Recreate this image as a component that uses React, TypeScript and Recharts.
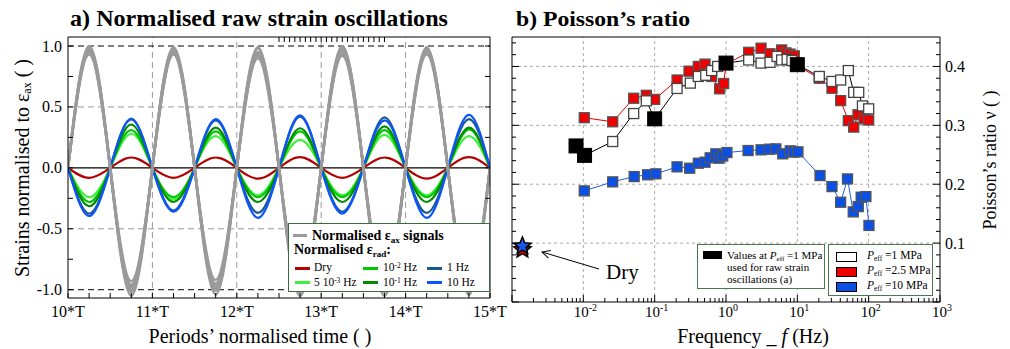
import React from 'react';
import { LineChart, Line, XAxis, YAxis, ReferenceLine, ScatterChart, Scatter } from 'recharts';

const SERIF = '"Liberation Serif", "Times New Roman", Times, serif';
const TXT = { fontFamily: SERIF };

// ---------------- Panel a) : raw strain oscillations ----------------
// samples at every quarter period (zero crossings and extrema)
const PERIOD_SAMPLES = [10, 10.25, 10.5, 10.75, 11, 11.25, 11.5, 11.75, 12, 12.25, 12.5, 12.75, 13, 13.25, 13.5, 13.75, 14, 14.25, 14.5, 14.75, 15];
const PERIOD_TICKS = [10, 10.25, 10.5, 10.75, 11, 11.25, 11.5, 11.75, 12, 12.25, 12.5, 12.75, 13, 13.25, 13.5, 13.75, 14, 14.25, 14.5, 14.75, 15];
const PERIOD_LABELS = ['10*T', '11*T', '12*T', '13*T', '14*T', '15*T'];
const PERIOD_GRID = [11, 12, 13, 14];
const STRAIN_TICKS = [-1, -0.75, -0.5, -0.25, 0, 0.25, 0.5, 0.75, 1];
const STRAIN_LABELS = ['-1.0', '-0.5', '0.0', '0.5', '1.0'];
const STRAIN_GRID_DARK = [-1, 1];
const STRAIN_GRID_LIGHT = [-0.5, 0.5];

// axial strain signals (one per test), extrema of each half period
const AX_1 = [1.0, -1.05, 0.99, -1.04, 0.99, -1.05, 1.0, -1.05, 0.99, -1.04];
const AX_2 = [0.99, -1.02, 0.98, -1.01, 0.98, -1.02, 0.99, -1.02, 0.98, -1.02];
const AX_3 = [0.97, -0.98, 0.97, -0.97, 0.95, -0.98, 0.97, -0.98, 0.97, -0.98];
const AX_4 = [0.95, -0.96, 0.94, -0.95, 0.92, -0.96, 0.94, -0.95, 0.95, -0.96];
const AX_5 = [0.93, -0.93, 0.93, -0.92, 0.9, -0.94, 0.92, -0.93, 0.93, -0.94];
const AX_6 = [0.96, -1.0, 0.95, -0.99, 0.94, -1.0, 0.96, -1.0, 0.96, -0.99];

// radial strain signals
const RAD_DRY = [-0.082, 0.085, -0.082, 0.085, -0.088, 0.088, -0.082, 0.085, -0.088, 0.088];
const RAD_5E3 = [-0.24, 0.28, -0.26, 0.26, -0.225, 0.23, -0.225, 0.27, -0.225, 0.26];
const RAD_1E2 = [-0.28, 0.31, -0.24, 0.3, -0.24, 0.3, -0.24, 0.31, -0.24, 0.315];
const RAD_1E1 = [-0.315, 0.356, -0.28, 0.33, -0.28, 0.325, -0.28, 0.34, -0.28, 0.33];
const RAD_1 = [-0.375, 0.405, -0.35, 0.39, -0.37, 0.42, -0.36, 0.415, -0.37, 0.4];
const RAD_10 = [-0.395, 0.397, -0.36, 0.4, -0.41, 0.43, -0.375, 0.39, -0.41, 0.435];

const AX_SERIES = [AX_1, AX_2, AX_3, AX_4, AX_5, AX_6];
const RAD_SERIES = [RAD_DRY, RAD_5E3, RAD_1E2, RAD_1E1, RAD_1, RAD_10];
const RAD_COLORS = ['#b30000', '#3cf03c', '#00c800', '#008a00', '#1c5a8c', '#0a55ff'];
const AX_COLOR = '#9a9a9a';

const strainRows = PERIOD_SAMPLES.map((t, i) => {
  const row: Record<string, number> = { t };
  const pick = (peaks: number[]) => (i % 2 === 1 ? peaks[(i - 1) / 2] : 0);
  AX_SERIES.forEach((s, k) => (row['ax' + k] = pick(s)));
  RAD_SERIES.forEach((s, k) => (row['rad' + k] = pick(s)));
  return row;
});

// ---------------- Panel b) : Poisson's ratio ----------------
const FREQ_DECADES = [0.001, 0.01, 0.1, 1, 10, 100];
const FREQ_MULTS = [1, 2, 3, 4, 5, 6, 7, 8, 9];
const FREQ_LABELS = ['-2', '-1', '0', '1', '2', '3'];
const FREQ_GRID = [0.01, 0.1, 1, 10, 100];
const NU_TICKS = [0, 0.02, 0.04, 0.06, 0.08, 0.1, 0.12, 0.14, 0.16, 0.18, 0.2, 0.22, 0.24, 0.26, 0.28, 0.3, 0.32, 0.34, 0.36, 0.38, 0.4, 0.42, 0.44];
const NU_LABELS = ['0.1', '0.2', '0.3', '0.4'];
const NU_GRID = [0.1, 0.2, 0.3, 0.4];

const P25_F = [0.0103, 0.0258, 0.0508, 0.0764, 0.1, 0.206, 0.303, 0.409, 0.508, 0.629, 0.815, 0.927, 1.0, 2.08, 3.1, 4.14, 6.03, 6.93, 7.9, 9.07, 10, 20.3, 30.6, 40.5, 51.9, 61.7, 70.9, 87, 100];
const P25_V = [0.313, 0.306, 0.346, 0.351, 0.344, 0.377, 0.392, 0.4, 0.404, 0.383, 0.362, 0.371, 0.404, 0.424, 0.431, 0.4215, 0.428, 0.423, 0.421, 0.418, 0.401, 0.38, 0.363, 0.342, 0.308, 0.297, 0.318, 0.311, 0.309];

const P1_F = [0.0079, 0.0104, 0.0258, 0.0508, 0.0764, 0.1, 0.206, 0.316, 0.409, 0.52, 0.629, 0.764, 1.0, 2.08, 3.1, 4.14, 5.19, 6.03, 7.2, 8.4, 10, 20.3, 30.6, 40.5, 51.9, 61.7, 72.5, 81.8, 100];
const P1_V = [0.265, 0.249, 0.2725, 0.32, 0.3416, 0.311, 0.3626, 0.3717, 0.383, 0.385, 0.393, 0.4, 0.4057, 0.411, 0.4057, 0.407, 0.417, 0.411, 0.412, 0.41, 0.403, 0.383, 0.3745, 0.377, 0.393, 0.356, 0.356, 0.333, 0.328];

const P10_F = [0.0103, 0.0258, 0.0516, 0.0797, 0.104, 0.206, 0.31, 0.41, 0.508, 0.6, 0.72, 0.8, 0.9, 1.03, 2.04, 3.1, 4.04, 5.0, 6.24, 7.97, 8.9, 10.2, 20.8, 30.6, 40.5, 50.5, 60.8, 71.5, 78.5, 91.5, 101];
const P10_V = [0.1887, 0.204, 0.213, 0.216, 0.2176, 0.2295, 0.2272, 0.2357, 0.2374, 0.2448, 0.2516, 0.2442, 0.248, 0.2538, 0.2572, 0.2584, 0.2595, 0.26, 0.2516, 0.2567, 0.2545, 0.255, 0.2147, 0.196, 0.1694, 0.209, 0.153, 0.162, 0.178, 0.179, 0.13];

const RAW_F = [0.0079, 0.0104, 0.1, 1.0, 10];
const RAW_V = [0.265, 0.249, 0.311, 0.4057, 0.403];

const DRY_F = [0.0014];
const DRY_RED_V = [0.089];
const DRY_BLUE_V = [0.095];

const FREQ_TICKS = FREQ_DECADES.flatMap((d) => FREQ_MULTS.map((m) => +(d * m).toPrecision(3))).concat([1000]);
const toPts = (fs: number[], vs: number[]) => fs.map((f, i) => ({ f, v: vs[i] }));
const p25Data = toPts(P25_F, P25_V);
const p1Data = toPts(P1_F, P1_V);
const p10Data = toPts(P10_F, P10_V);
const rawData = toPts(RAW_F, RAW_V);
const dryRed = toPts(DRY_F, DRY_RED_V);
const dryBlue = toPts(DRY_F, DRY_BLUE_V);

// ---------------- tick renderers ----------------
const isHalf = (v: number) => Math.abs(v * 2 - Math.round(v * 2)) < 1e-9;
const isTenth = (v: number) => Math.abs(v * 10 - Math.round(v * 10)) < 1e-6;
const isDecade = (v: number) => Math.abs(Math.log10(v) - Math.round(Math.log10(v))) < 1e-6;

const ABottomTick = (p: any) => {
  const v = p.payload.value;
  const idx = PERIOD_LABELS.findIndex((_, k) => Math.abs(10 + k - v) < 1e-9);
  return (
    <g>
      <line x1={p.x} x2={p.x} y1={p.y} y2={p.y - 5} stroke="#000" />
      {idx >= 0 && (
        <text x={p.x} y={p.y + 19} textAnchor="middle" style={TXT} fontSize={16} fill="#000">
          {PERIOD_LABELS[idx]}
        </text>
      )}
    </g>
  );
};
const ATopTick = (p: any) => <line x1={p.x} x2={p.x} y1={p.y} y2={p.y + 5} stroke="#000" />;
const ALeftTick = (p: any) => {
  const v = p.payload.value;
  const idx = isHalf(v) ? Math.round(v * 2) + 2 : -1;
  return (
    <g>
      <line x1={p.x} x2={p.x + 5} y1={p.y} y2={p.y} stroke="#000" />
      {idx >= 0 && (
        <text x={p.x - 6} y={p.y} textAnchor="end" dominantBaseline="central" style={TXT} fontSize={16} fill="#000">
          {STRAIN_LABELS[idx]}
        </text>
      )}
    </g>
  );
};
const ARightTick = (p: any) => <line x1={p.x} x2={p.x - 5} y1={p.y} y2={p.y} stroke="#000" />;

const BBottomTick = (p: any) => {
  const v = p.payload.value;
  const major = isDecade(v);
  const e = Math.round(Math.log10(v));
  const idx = major ? e + 2 : -1;
  return (
    <g>
      <line x1={p.x} x2={p.x} y1={p.y} y2={p.y - (major ? 7 : 4)} stroke="#000" />
      {idx >= 0 && idx < FREQ_LABELS.length && (
        <text x={p.x + 2} y={p.y + 15} textAnchor="middle" style={TXT} fontSize={15} fill="#000">
          10<tspan dy={-6} fontSize={10}>{FREQ_LABELS[idx]}</tspan>
        </text>
      )}
    </g>
  );
};
const BTopTick = (p: any) => {
  const major = isDecade(p.payload.value);
  return <line x1={p.x} x2={p.x} y1={p.y} y2={p.y + (major ? 7 : 4)} stroke="#000" />;
};
const BLeftTick = (p: any) => {
  const major = isTenth(p.payload.value);
  return <line x1={p.x} x2={p.x + (major ? 7 : 4)} y1={p.y} y2={p.y} stroke="#000" />;
};
const BRightTick = (p: any) => {
  const v = p.payload.value;
  const major = isTenth(v);
  const idx = major && v > 0.05 ? Math.round(v * 10) - 1 : -1;
  return (
    <g>
      <line x1={p.x} x2={p.x - (major ? 7 : 4)} y1={p.y} y2={p.y} stroke="#000" />
      {idx >= 0 && (
        <text x={p.x + 5} y={p.y} textAnchor="start" dominantBaseline="central" style={TXT} fontSize={16} fill="#000">
          {NU_LABELS[idx]}
        </text>
      )}
    </g>
  );
};

// ---------------- marker shapes ----------------
const square = (size: number, fill: string, stroke: string, sw: number) => (p: any) => (
  <rect x={p.cx - size / 2} y={p.cy - size / 2} width={size} height={size} fill={fill} stroke={stroke} strokeWidth={sw} />
);
const star = (fill: string) => (p: any) => {
  const R = 9;
  const pts: string[] = [];
  for (let k = 0; k < 10; k++) {
    const a = ((-90 + k * 36) * Math.PI) / 180;
    const r = k % 2 === 0 ? R : R * 0.45;
    pts.push(`${p.cx + r * Math.cos(a)},${p.cy + r * Math.sin(a)}`);
  }
  return <polygon points={pts.join(' ')} fill={fill} stroke="#000" strokeWidth={1.5} strokeLinejoin="miter" />;
};

const axisLine = { stroke: '#000', strokeWidth: 1 };

const Swatch = ({ left, top, color, w = 15 }: any) => (
  <div style={{ position: 'absolute', left, top: top - 1.5, width: w, height: 3, background: color }} />
);
const Txt = ({ left, top, children, size = 11.5, bold = false }: any) => (
  <div
    style={{
      position: 'absolute',
      left,
      top: top - size * 0.5,
      fontSize: size,
      lineHeight: `${size}px`,
      height: size,
      fontWeight: bold ? 'bold' : 'normal',
      whiteSpace: 'nowrap',
      color: '#000',
    }}
  >
    {children}
  </div>
);
const Sup = ({ children }: any) => <span style={{ fontSize: '0.65em', verticalAlign: '0.45em', lineHeight: 0 }}>{children}</span>;
const Sub = ({ children }: any) => <span style={{ fontSize: '0.65em', verticalAlign: '-0.3em', lineHeight: 0 }}>{children}</span>;
const Peff = () => (
  <span>
    <i>P</i>
    <Sub>eff</Sub>
  </span>
);

export default function App() {
  return (
    <div style={{ position: 'absolute', left: 0, top: 0, width: 1010, height: 349, background: '#fff', fontFamily: SERIF, overflow: 'hidden' }}>
      {/* Panel a */}
      <div style={{ position: 'absolute', left: 0, top: 0 }}>
        <LineChart width={520} height={349} data={strainRows} margin={{ top: 0, right: 20, bottom: 0, left: 8 }}>
          <XAxis xAxisId="xb" dataKey="t" type="number" domain={[10, 15]} allowDataOverflow ticks={PERIOD_TICKS} interval={0} tickSize={0} tickMargin={0} tickLine={false} height={51} axisLine={axisLine} tick={(p: any) => <ABottomTick {...p} />} />
          <XAxis xAxisId="xt" orientation="top" type="number" domain={[10, 15]} allowDataOverflow ticks={PERIOD_TICKS} interval={0} tickSize={0} tickMargin={0} tickLine={false} height={37} axisLine={axisLine} tick={(p: any) => <ATopTick {...p} />} />
          <YAxis yAxisId="yl" type="number" domain={[-1.068, 1.074]} allowDataOverflow ticks={STRAIN_TICKS} interval={0} tickSize={0} tickMargin={0} tickLine={false} width={60} axisLine={axisLine} tick={(p: any) => <ALeftTick {...p} />} />
          <YAxis yAxisId="yr" orientation="right" type="number" domain={[-1.068, 1.074]} allowDataOverflow ticks={STRAIN_TICKS} interval={0} tickSize={0} tickMargin={0} tickLine={false} width={10} axisLine={axisLine} tick={(p: any) => <ARightTick {...p} />} />
          {PERIOD_GRID.map((x) => (
            <ReferenceLine key={'px' + x} x={x} xAxisId="xb" yAxisId="yl" stroke="#999" strokeDasharray="6 4" />
          ))}
          {STRAIN_GRID_LIGHT.map((y) => (
            <ReferenceLine key={'sl' + y} y={y} xAxisId="xb" yAxisId="yl" stroke="#999" strokeDasharray="6 4" />
          ))}
          {STRAIN_GRID_DARK.map((y) => (
            <ReferenceLine key={'sd' + y} y={y} xAxisId="xb" yAxisId="yl" stroke="#000" strokeDasharray="6 4" />
          ))}
          <ReferenceLine y={0} xAxisId="xb" yAxisId="yl" stroke="#000" strokeWidth={1.2} />
          {RAD_SERIES.map((_, k) => (
            <Line key={'rad' + k} xAxisId="xb" yAxisId="yl" type="natural" dataKey={'rad' + k} stroke={RAD_COLORS[k]} strokeWidth={2.2} dot={false} isAnimationActive={false} />
          ))}
          {AX_SERIES.map((_, k) => (
            <Line key={'ax' + k} xAxisId="xb" yAxisId="yl" type="natural" dataKey={'ax' + k} stroke={AX_COLOR} strokeWidth={2.6} dot={false} isAnimationActive={false} />
          ))}
        </LineChart>
      </div>

      {/* Panel b */}
      <div style={{ position: 'absolute', left: 500, top: 0 }}>
        <ScatterChart width={510} height={349} margin={{ top: 0, right: 0, bottom: 0, left: 0 }}>
          <XAxis xAxisId="xb" dataKey="f" type="number" scale="log" domain={[0.001, 1000]} allowDataOverflow ticks={FREQ_TICKS} interval={0} tickSize={0} tickMargin={0} tickLine={false} height={47} axisLine={axisLine} tick={(p: any) => <BBottomTick {...p} />} />
          <XAxis xAxisId="xt" orientation="top" type="number" scale="log" domain={[0.001, 1000]} allowDataOverflow ticks={FREQ_TICKS} interval={0} tickSize={0} tickMargin={0} tickLine={false} height={37} axisLine={axisLine} tick={(p: any) => <BTopTick {...p} />} />
          <YAxis yAxisId="yl" dataKey="v" type="number" domain={[0, 0.45]} allowDataOverflow ticks={NU_TICKS} interval={0} tickSize={0} tickMargin={0} tickLine={false} width={12} axisLine={axisLine} tick={(p: any) => <BLeftTick {...p} />} />
          <YAxis yAxisId="yr" orientation="right" type="number" domain={[0, 0.45]} allowDataOverflow ticks={NU_TICKS} interval={0} tickSize={0} tickMargin={0} tickLine={false} width={70} axisLine={axisLine} tick={(p: any) => <BRightTick {...p} />} />
          {FREQ_GRID.map((x) => (
            <ReferenceLine key={'fx' + x} x={x} xAxisId="xb" yAxisId="yl" stroke="#aaa" strokeDasharray="3 3" />
          ))}
          {NU_GRID.map((y) => (
            <ReferenceLine key={'ny' + y} y={y} xAxisId="xb" yAxisId="yl" stroke="#aaa" strokeDasharray="3 3" />
          ))}
          <Scatter data={p25Data} xAxisId="xb" yAxisId="yl" line={{ stroke: '#e00000', strokeWidth: 1 }} shape={square(10, '#ee0000', '#555', 1.3)} isAnimationActive={false} />
          <Scatter data={p1Data} xAxisId="xb" yAxisId="yl" line={{ stroke: '#000', strokeWidth: 1 }} shape={square(10, '#fff', '#444', 1.3)} isAnimationActive={false} />
          <Scatter data={p10Data} xAxisId="xb" yAxisId="yl" line={{ stroke: '#1e5ee8', strokeWidth: 1 }} shape={square(10, '#0a50e6', '#555', 1.3)} isAnimationActive={false} />
          <Scatter data={rawData} xAxisId="xb" yAxisId="yl" shape={square(14, '#000', '#000', 1)} isAnimationActive={false} />
          <Scatter data={dryRed} xAxisId="xb" yAxisId="yl" shape={star('#e00000')} isAnimationActive={false} />
          <Scatter data={dryBlue} xAxisId="xb" yAxisId="yl" shape={star('#1a55e8')} isAnimationActive={false} />
        </ScatterChart>
      </div>

      {/* titles, axis titles and annotation */}
      <svg width={1010} height={349} style={{ position: 'absolute', left: 0, top: 0, pointerEvents: 'none', fontFamily: SERIF }}>
        <defs>
          <marker id="arr" markerWidth="10" markerHeight="10" refX="1" refY="5" orient="auto" markerUnits="userSpaceOnUse">
            <path d="M9,1 L1,5 L9,9" fill="none" stroke="#000" strokeWidth="1" />
          </marker>
        </defs>
        <text x={70} y={26} style={TXT} fontSize={23} fontWeight="bold" fill="#000" textLength={378} lengthAdjust="spacingAndGlyphs">
          a) Normalised raw strain oscillations
        </text>
        <text x={516} y={26} style={TXT} fontSize={22} fontWeight="bold" fill="#000" textLength={174} lengthAdjust="spacingAndGlyphs">
          b) Poisson’s ratio
        </text>
        <text x={260} y={343} textAnchor="middle" style={TXT} fontSize={20} fill="#000">
          Periods’ normalised time ( )
        </text>
        <text x={753} y={343} textAnchor="middle" style={TXT} fontSize={20} fill="#000">
          Frequency _ <tspan fontStyle="italic">f</tspan>  (Hz)
        </text>
        <text transform="translate(22,168) rotate(-90)" textAnchor="middle" dominantBaseline="central" style={TXT} fontSize={20} fill="#000">
          Strains normalised to ε<tspan dy={5} fontSize={12}>ax</tspan>
          <tspan dy={-5}> ( )</tspan>
        </text>
        <text transform="translate(990,160) rotate(-90)" textAnchor="middle" dominantBaseline="central" style={TXT} fontSize={18} fill="#000">
          Poisson’s ratio ν ( )
        </text>
        <line x1={542} y1={252} x2={599} y2={269} stroke="#000" strokeWidth={1} markerStart="url(#arr)" />
        <text x={606} y={279} style={TXT} fontSize={21} fill="#000">
          Dry
        </text>
      </svg>

      {/* legend of panel a */}
      <div style={{ position: 'absolute', left: 288, top: 223, width: 202, height: 69, border: '1.5px solid #3a6b3a', background: '#fff', boxSizing: 'border-box' }}>
        <Swatch left={4} top={11.5} color={AX_COLOR} w={14} />
        <Txt left={23} top={11.5} size={14} bold>
          Normalised ε<Sub>ax</Sub> signals
        </Txt>
        <Txt left={5} top={26} size={14} bold>
          Normalised ε<Sub>rad</Sub>:
        </Txt>
        <Swatch left={6} top={44} color={RAD_COLORS[0]} />
        <Txt left={25} top={44}>Dry</Txt>
        <Swatch left={6} top={58.5} color={RAD_COLORS[1]} />
        <Txt left={25} top={58.5}>
          5 10<Sup>-3</Sup> Hz
        </Txt>
        <Swatch left={74} top={44} color={RAD_COLORS[2]} />
        <Txt left={94} top={44}>
          10<Sup>-2</Sup> Hz
        </Txt>
        <Swatch left={74} top={58.5} color={RAD_COLORS[3]} />
        <Txt left={94} top={58.5}>
          10<Sup>-1</Sup> Hz
        </Txt>
        <Swatch left={138} top={44} color={RAD_COLORS[4]} />
        <Txt left={158} top={44}>1 Hz</Txt>
        <Swatch left={138} top={58.5} color={RAD_COLORS[5]} />
        <Txt left={158} top={58.5}>10 Hz</Txt>
      </div>

      {/* legends of panel b */}
      <div style={{ position: 'absolute', left: 697, top: 244, width: 128, height: 45, border: '1.5px solid #4a7a4a', background: '#fff', boxSizing: 'border-box' }}>
        <div style={{ position: 'absolute', left: 5, top: 6, width: 19, height: 8, background: '#000' }} />
        <Txt left={29} top={10} size={11}>
          Values at <Peff /> =1 MPa
        </Txt>
        <Txt left={29} top={22} size={11}>used for raw strain</Txt>
        <Txt left={29} top={34} size={11}>oscillations (a)</Txt>
      </div>
      <div style={{ position: 'absolute', left: 828, top: 244, width: 105, height: 52, border: '1.5px solid #4a7a4a', background: '#fff', boxSizing: 'border-box' }}>
        <div style={{ position: 'absolute', left: 7, top: 6.5, width: 19, height: 8, background: '#fff', border: '1px solid #000' }} />
        <div style={{ position: 'absolute', left: 7, top: 21.5, width: 19, height: 8, background: '#ee0000', border: '1px solid #000' }} />
        <div style={{ position: 'absolute', left: 7, top: 36.5, width: 19, height: 8, background: '#0a50e6', border: '1px solid #000' }} />
        <Txt left={38} top={11}>
          <Peff /> =1 MPa
        </Txt>
        <Txt left={38} top={26}>
          <Peff /> =2.5 MPa
        </Txt>
        <Txt left={38} top={41}>
          <Peff /> =10 MPa
        </Txt>
      </div>
    </div>
  );
}
